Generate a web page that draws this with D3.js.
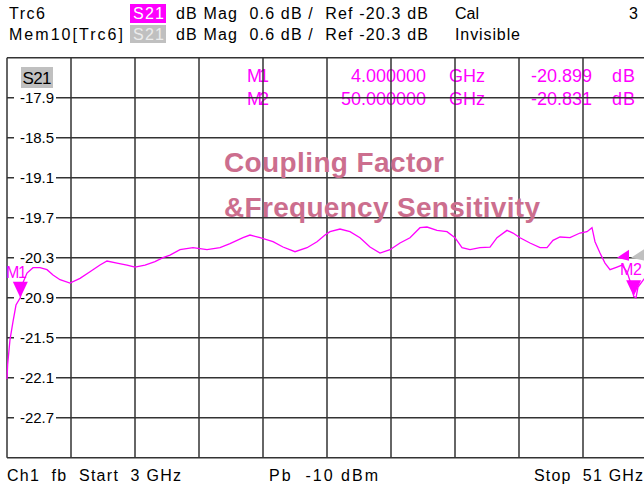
<!DOCTYPE html>
<html><head><meta charset="utf-8">
<script src="https://cdn.jsdelivr.net/npm/d3@7"></script>
<style>html,body{margin:0;padding:0;background:#fff;}svg{display:block;}text{white-space:pre;}</style>
</head><body>
<svg id="c" width="644" height="488"></svg>
<script>
// ---- data ----
const freqGHz = [3.0,3.05,3.225,3.45,3.675,4.0,4.125,4.5,4.95,5.475,6.0,6.45,6.975,7.725,8.475,9.225,9.975,10.5,11.25,12.0,12.6,13.35,14.1,14.7,15.225,15.975,16.95,18.0,18.975,19.725,20.7,21.225,21.975,22.95,23.7,24.6,25.5,26.25,26.85,27.225,27.975,28.725,29.475,30.225,30.975,31.725,32.475,33.225,33.975,34.5,35.25,36.0,36.6,37.125,37.725,38.475,39.225,39.75,40.5,40.95,41.475,42.225,42.975,43.5,43.95,44.475,45.225,45.975,46.5,46.875,47.1,47.475,47.85,48.225,48.75,49.125,49.5,49.875,50.0,50.175,50.325,50.7,51.0];
const traceDb = [-22.12,-21.9,-21.53,-21.26,-21.01,-20.899,-20.71,-20.53,-20.45,-20.45,-20.48,-20.56,-20.63,-20.68,-20.61,-20.51,-20.41,-20.35,-20.38,-20.41,-20.44,-20.41,-20.36,-20.30,-20.26,-20.18,-20.15,-20.18,-20.15,-20.09,-20.0,-19.96,-20.0,-20.06,-20.14,-20.21,-20.15,-20.06,-19.96,-19.91,-19.87,-19.91,-20.0,-20.14,-20.23,-20.18,-20.08,-20.0,-19.85,-19.84,-19.89,-19.91,-20.0,-20.15,-20.18,-20.15,-20.14,-20.0,-19.89,-19.93,-20.0,-20.08,-20.15,-20.15,-20.04,-19.99,-20.0,-19.93,-19.91,-19.85,-20.06,-20.23,-20.38,-20.48,-20.44,-20.41,-20.51,-20.74,-20.88,-20.9,-20.74,-20.64,-20.56];
const yGridDb = [-17.3,-17.9,-18.5,-19.1,-19.7,-20.3,-20.9,-21.5,-22.1,-22.7,-23.3];
const yTickLabels = ["-17.9","-18.5","-19.1","-19.7","-20.3","-20.9","-21.5","-22.1","-22.7"];
const xGridGHz = [3,7.8,12.6,17.4,22.2,27,31.8,36.6,41.4,46.2,51];
const markerNames = ["M1","M2"];
const markerFreqs = [4.0,50.0];
const markerFreqText = ["4.000000","50.000000"];
const markerValText = ["-20.899","-20.831"];
const refLevel = -20.3;

// ---- scales ----
const x = d3.scaleLinear().domain([3,51]).range([7,647]);
const y = d3.scaleLinear().domain([-23.3,-17.3]).range([457.7,57.7]);
const svg = d3.select("#c");
const F = "'Liberation Sans', Arial, sans-serif";
const MAG = "#ff00ff";

function txt(s, x0, base, w, size, fill, extra){
  const t = svg.append("text").attr("x",x0).attr("y",base).text(s)
    .attr("font-family",F).attr("font-size",size).attr("fill",fill);
  if (w) t.attr("textLength",w).attr("lengthAdjust","spacing");
  if (extra) extra(t);
  return t;
}

// ---- header ----
txt("Trc6",9,19,36,16,"#000");
svg.append("rect").attr("x",130).attr("y",4).attr("width",36).attr("height",19).attr("fill",MAG);
txt("S21",133,19,31,16,"#fff");
txt("dB Mag  0.6 dB /  Ref -20.3 dB",176,19,252,16,"#000");
txt("Cal",455,19,null,16,"#000");
txt("3",629,19,null,16,"#000");
txt("Mem10[Trc6]",9,40,114,16,"#000");
svg.append("rect").attr("x",130).attr("y",25).attr("width",36).attr("height",18).attr("fill","#c0c0c0");
txt("S21",133,40,31,16,"#ececec");
txt("dB Mag  0.6 dB /  Ref -20.3 dB",176,40,252,16,"#000");
txt("Invisible",455,40,65,16,"#000");

// ---- marker table (under grid) ----
markerNames.forEach((m,i)=>{
  const b = 82 + i*23;
  txt(m,247,b,22,18,MAG);
  txt(markerFreqText[i],426,b,null,18,MAG,t=>t.attr("text-anchor","end"));
  txt("GHz",449,b,36,18,MAG);
  txt(markerValText[i],592,b,null,18,MAG,t=>t.attr("text-anchor","end"));
  txt("dB",612,b,23,18,MAG);
});

// ---- grid ----
const g = svg.append("g").attr("stroke","#333").attr("stroke-width",1.5);
g.selectAll("line.v").data(xGridGHz).join("line")
  .attr("x1",d=>x(d)).attr("x2",d=>x(d)).attr("y1",y(-17.3)).attr("y2",y(-23.3));
g.selectAll("line.h").data(yGridDb).join("line")
  .attr("x1",x(3)).attr("x2",644).attr("y1",d=>y(d)).attr("y2",d=>y(d));

// ---- title annotation ----
const TC = "#cc6e8e";
txt("Coupling Factor",224,172,220,28,TC,t=>t.attr("font-weight","bold"));
txt("&Frequency Sensitivity",224,217,316,28,TC,t=>t.attr("font-weight","bold"));

// ---- y labels ----
yTickLabels.forEach(s=>{
  const yy = y(+s);
  svg.append("rect").attr("x",14).attr("y",yy-7).attr("width",42).attr("height",14).attr("fill","#fff");
  txt(s,20,yy+5,34,15,"#000");
});
svg.append("rect").attr("x",21).attr("y",67).attr("width",32).attr("height",21).attr("fill","#c0c0c0");
txt("S21",22.5,84,29,17,"#000");

// ---- reference arrows & M2 label ----
txt("M2",620,275,22,16,MAG);
const ry = y(refLevel);
svg.append("path").attr("d",`M617,${ry}L629,${ry-8}L629,${ry+3}Z`).attr("fill",MAG);
svg.append("path").attr("d",`M631,${ry}L645,${ry-9}L645,${ry+3}Z`).attr("fill","#c0c0c0");

// ---- trace ----
const data = freqGHz.map((f,i)=>({f, v:traceDb[i]}));
svg.append("path").datum(data)
  .attr("d", d3.line().x(d=>x(d.f)).y(d=>y(d.v)))
  .attr("fill","none").attr("stroke",MAG).attr("stroke-width",1.3);

// ---- markers ----
const interp = f => { const i = d3.bisectLeft(freqGHz,f); if (freqGHz[i]===f) return traceDb[i];
  const t=(f-freqGHz[i-1])/(freqGHz[i]-freqGHz[i-1]); return traceDb[i-1]+t*(traceDb[i]-traceDb[i-1]); };
markerFreqs.forEach((f,i)=>{
  const px = x(f), py = y(interp(f));
  svg.append("path").attr("d",`M${px-7.5},${py-16}L${px+7.5},${py-16}L${px},${py}Z`).attr("fill",MAG);
});
txt("M1",6,278,21,16,MAG);

// ---- footer ----
txt("Ch1  fb  Start  3 GHz",7,481,174,16,"#000");
txt("Pb  -10 dBm",269,481,109,16,"#000");
txt("Stop  51 GHz",534,481,109,16,"#000");
</script>
</body></html>
